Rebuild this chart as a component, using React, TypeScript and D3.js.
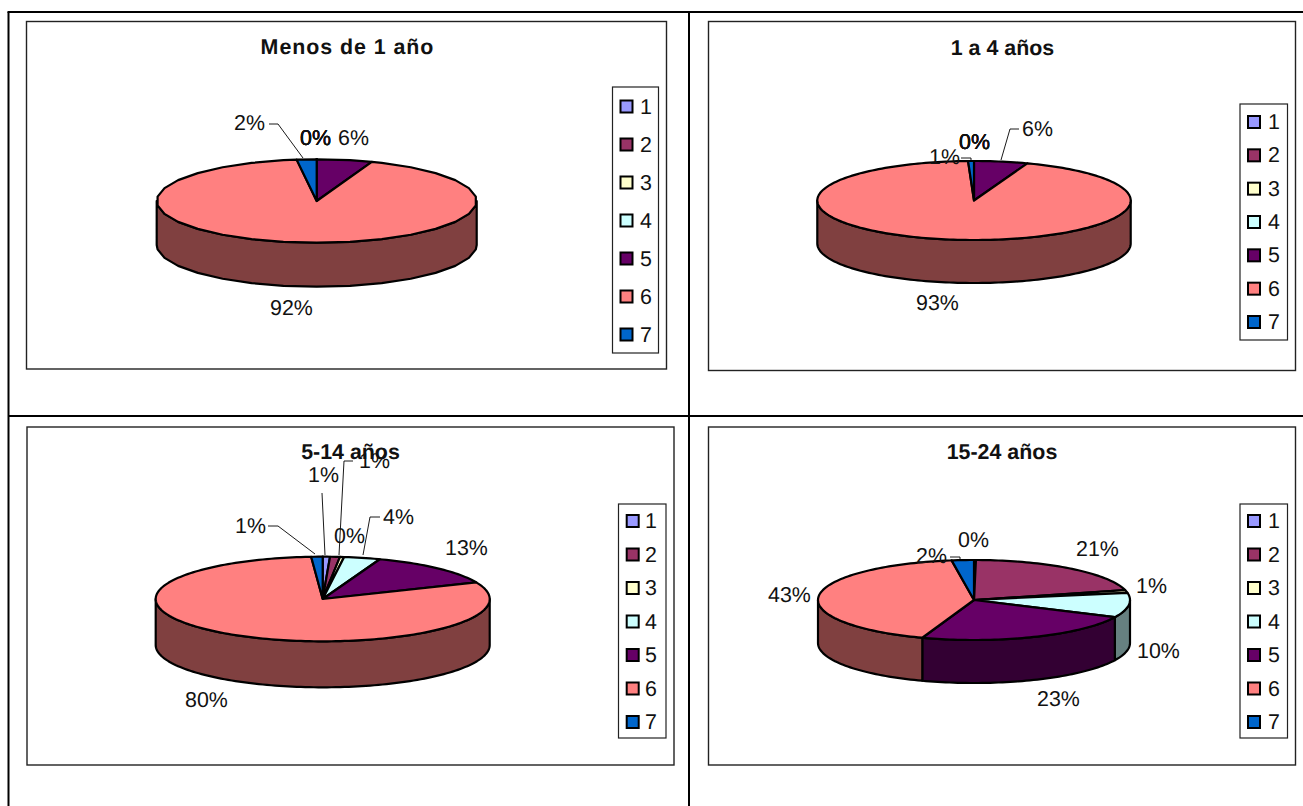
import React from "react";
import * as d3 from "d3";

const categories = ["1", "2", "3", "4", "5", "6", "7"];
const colors = ["#9999FF", "#993366", "#FFFFCC", "#CCFFFF", "#660066", "#FF8080", "#0066CC"];
const titles = ["Menos de 1 año", "1 a 4 años", "5-14 años", "15-24 años"];

const valuesUnder1 = [0, 0, 0, 0, 5.6, 92.4, 2.0];
const values1to4 = [0, 0, 0, 0, 5.5, 93.4, 0.6];
const values5to14 = [0.7, 0.95, 0.4, 3.5, 13, 80.2, 1.1];
const values15to24 = [0.2, 20.9, 1.1, 10.0, 23.4, 42.5, 2.3];

type Pt = [number, number];
type Layout = {
  title: string; values: number[]; titlePos: Pt; spacing: number;
  box: [number, number, number, number];
  legend: [number, number, number, number];
  swatchX: number; labelX: number; legendY: Pt;
  cx: number; cy: number; rx: number; ry: number; depth: number; segments: number;
  labels: Pt[]; leaders: Pt[][];
};

const layouts: Layout[] = [
  {
    title: titles[0], values: valuesUnder1, titlePos: [347.5, 54], spacing: 0.95,
    box: [26.5, 21.5, 666.5, 369], legend: [612.5, 87, 658.5, 353],
    swatchX: 626.5, labelX: 640, legendY: [106.5, 334.5],
    cx: 316.7, cy: 201, rx: 160, ry: 41.7, depth: 44, segments: 30,
    labels: [[300, 145], [300, 145], [300, 145], [300, 145], [338, 145], [270, 315], [234, 130]],
    leaders: [[[269, 124], [278, 124], [303, 158]]],
  },
  {
    title: titles[1], values: values1to4, titlePos: [1002.5, 54.5], spacing: 0,
    box: [708.5, 21.5, 1295.5, 370.5], legend: [1240, 104, 1287.5, 340],
    swatchX: 1254, labelX: 1268, legendY: [122, 322],
    cx: 974, cy: 200.5, rx: 156.7, ry: 39.5, depth: 43, segments: 240,
    labels: [[959, 149], [959, 149], [959, 149], [959, 149], [1022, 136], [916, 310], [929, 164]],
    leaders: [[[1019, 129], [1010, 129], [1001, 160]], [[961, 158], [971, 158], [971, 161]]],
  },
  {
    title: titles[2], values: values5to14, titlePos: [350.5, 459], spacing: 0,
    box: [27, 427, 674, 765], legend: [618.5, 504, 666, 738],
    swatchX: 632.7, labelX: 645, legendY: [521, 722],
    cx: 322.7, cy: 599, rx: 167, ry: 42.3, depth: 46, segments: 240,
    labels: [[308, 482], [359, 468], [334, 543], [383, 524], [445, 555], [185, 707], [235, 533]],
    leaders: [
      [[353, 461], [344, 461], [339, 555]],
      [[322, 493], [325, 555]],
      [[268, 526], [278, 526], [315, 554]],
      [[380, 517], [370, 517], [363, 555]],
    ],
  },
  {
    title: titles[3], values: values15to24, titlePos: [1002, 459], spacing: 0,
    box: [708.5, 427, 1295.5, 765], legend: [1240, 504, 1287.5, 738],
    swatchX: 1254, labelX: 1268, legendY: [521, 722],
    cx: 974, cy: 600, rx: 156, ry: 40, depth: 43, segments: 240,
    labels: [[958, 547], [1076, 556], [1136, 593], [1137, 658], [1037, 706], [768, 602], [916, 563]],
    leaders: [[[950, 557], [960, 557], [960, 560]]],
  },
];

const FONT = "'Liberation Sans', Arial, sans-serif";
const line = d3.line<Pt>();
const tau = Math.PI * 2;

function sampleAngles(a0: number, a1: number, segments: number): number[] {
  const step = tau / segments;
  const inner = d3.range(Math.ceil(a0 / step + 1e-6), Math.floor(a1 / step - 1e-6) + 1).map((k) => k * step);
  return [a0, ...inner, a1];
}

function Pie({ c }: { c: Layout }) {
  const arcs = d3.pie<number>().sort(null).startAngle(0).endAngle(tau)(c.values);
  const px = d3.scaleLinear().domain([-1, 1]).range([c.cx - c.rx, c.cx + c.rx]);
  const py = d3.scaleLinear().domain([-1, 1]).range([c.cy - c.ry, c.cy + c.ry]);
  const at = (a: number, dy = 0): Pt => [px(Math.sin(a)), py(-Math.cos(a)) + dy];
  return (
    <g>
      {arcs.map((s, i) => {
        const a0 = Math.max(s.startAngle, Math.PI / 2);
        const a1 = Math.min(s.endAngle, (3 * Math.PI) / 2);
        if (a1 <= a0) return null;
        const angles = sampleAngles(a0, a1, c.segments);
        const pts = [...angles.map((a) => at(a)), ...angles.slice().reverse().map((a) => at(a, c.depth))];
        const fill = d3.color(colors[i])!.rgb();
        const shade = `rgb(${fill.r / 2},${fill.g / 2},${fill.b / 2})`;
        return (
          <path key={i} d={line(pts) + "Z"} fill={shade} stroke="#000" strokeWidth={2.2} strokeLinejoin="round" />
        );
      })}
      {arcs.map((s, i) => {
        const pts: Pt[] = [[c.cx, c.cy], ...sampleAngles(s.startAngle, s.endAngle, c.segments).map((a) => at(a))];
        return (
          <path key={i} d={line(pts) + "Z"} fill={colors[i]} stroke="#000" strokeWidth={2.2} strokeLinejoin="round" />
        );
      })}
    </g>
  );
}

function Panel({ c }: { c: Layout }) {
  const [x0, y0, x1, y1] = c.box;
  const [lx0, ly0, lx1, ly1] = c.legend;
  const ly = d3.scalePoint<string>().domain(categories).range(c.legendY);
  return (
    <g fontFamily={FONT} fontSize={21.4} fill="#111" style={{ textRendering: "geometricPrecision" }}>
      <rect x={x0} y={y0} width={x1 - x0} height={y1 - y0} fill="#fff" stroke="#222" strokeWidth={1.4} />
      <Pie c={c} />
      {c.leaders.map((l, i) => (
        <path key={i} d={line(l)!} fill="none" stroke="#000" strokeWidth={0.9} />
      ))}
      {c.values.map((v, i) => (
        <text key={i} x={c.labels[i][0]} y={c.labels[i][1]}>{Math.round(v)}%</text>
      ))}
      <text x={c.titlePos[0]} y={c.titlePos[1]} textAnchor="middle" fontWeight="bold" letterSpacing={c.spacing}>
        {c.title}
      </text>
      <rect x={lx0} y={ly0} width={lx1 - lx0} height={ly1 - ly0} fill="#fff" stroke="#222" strokeWidth={1.2} />
      {categories.map((k, i) => (
        <g key={k}>
          <rect x={c.swatchX - 6} y={ly(k)! - 6} width={12} height={12} fill={colors[i]} stroke="#000" strokeWidth={2} />
          <text x={c.labelX} y={ly(k)! + 7}>{k}</text>
        </g>
      ))}
    </g>
  );
}

export default function App() {
  return (
    <svg width={1303} height={806} style={{ position: "absolute", left: 0, top: 0, display: "block", background: "#fff" }}>
      <g stroke="#000" strokeWidth={2}>
        <line x1={7.5} y1={12} x2={1303} y2={12} />
        <line x1={8.5} y1={12} x2={8.5} y2={806} />
        <line x1={689} y1={12} x2={689} y2={806} />
        <line x1={8} y1={416} x2={1303} y2={416} />
      </g>
      {layouts.map((c) => (
        <Panel key={c.title} c={c} />
      ))}
    </svg>
  );
}
